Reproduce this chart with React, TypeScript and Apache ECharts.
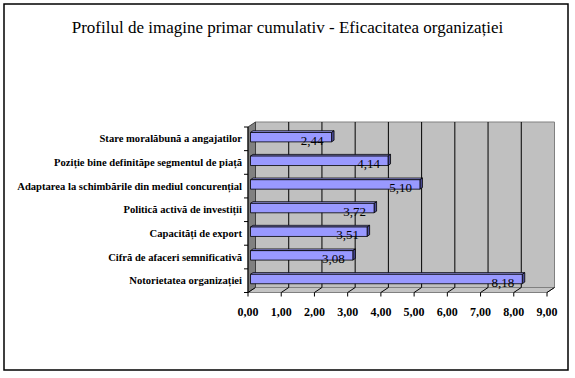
import React, { useEffect, useRef } from "react";
import * as echarts from "echarts";

const TITLE = "Profilul de imagine primar cumulativ - Eficacitatea organizației";
// bottom to top
const categories = [
  "Notorietatea organizației",
  "Cifră de afaceri semnificativă",
  "Capacități de export",
  "Politică activă de investiții",
  "Adaptarea la schimbările din mediul concurențial",
  "Poziție bine definităpe segmentul de piață",
  "Stare moralăbună a angajatilor",
];
const values = [8.18, 3.08, 3.51, 3.72, 5.1, 4.14, 2.44];
const xTicks = [0, 1, 2, 3, 4, 5, 6, 7, 8, 9];

const DX = 7.5;
const DY = -5;
const fmt = (v: number) => v.toFixed(2).replace(".", ",");
const SERIF = "Liberation Serif";

export default function App() {
  const ref = useRef<HTMLDivElement>(null);
  useEffect(() => {
    if (!ref.current) return;
    const chart = echarts.init(ref.current, null, { renderer: "svg" });
    const nCat = categories.length;

    const frameRender = (params: any, api: any) => {
      const cs = params.coordSys;
      const xL = api.coord([0, 0])[0];
      const xR = api.coord([xTicks[xTicks.length - 1], 0])[0];
      const yTop = cs.y;
      const yBot = cs.y + cs.height;
      const band = api.size([0, 1])[1];
      const children: any[] = [];
      children.push({
        type: "rect",
        shape: { x: xL + DX, y: yTop + DY, width: xR - xL, height: yBot - yTop },
        style: { fill: "#c0c0c0", stroke: "#808080", lineWidth: 1 },
      });
      children.push({
        type: "polygon",
        shape: { points: [[xL, yTop], [xL + DX, yTop + DY], [xL + DX, yBot + DY], [xL, yBot]] },
        style: { fill: "#808080", stroke: "#404040", lineWidth: 1 },
      });
      children.push({
        type: "polygon",
        shape: { points: [[xL, yBot], [xR, yBot], [xR + DX, yBot + DY], [xL + DX, yBot + DY]] },
        style: { fill: "#c4c4c4", stroke: "#808080", lineWidth: 1 },
      });
      xTicks.forEach((t) => {
        const x = api.coord([t, 0])[0];
        if (t !== xTicks[0] && t !== xTicks[xTicks.length - 1]) {
          children.push({
            type: "line",
            shape: { x1: x + DX, y1: yTop + DY, x2: x + DX, y2: yBot + DY },
            style: { stroke: "#000", lineWidth: 1 },
          });
        }
        children.push({
          type: "line",
          shape: { x1: x, y1: yBot, x2: x + DX, y2: yBot + DY },
          style: { stroke: "#000", lineWidth: 1 },
        });
        children.push({
          type: "line",
          shape: { x1: x, y1: yBot, x2: x, y2: yBot + 4 },
          style: { stroke: "#000", lineWidth: 1 },
        });
      });
      children.push({
        type: "line",
        shape: { x1: xL, y1: yTop, x2: xL, y2: yBot },
        style: { stroke: "#000", lineWidth: 1 },
      });
      for (let i = 0; i <= nCat; i++) {
        const y = yTop + i * band;
        children.push({
          type: "line",
          shape: { x1: xL - 4, y1: y, x2: xL, y2: y },
          style: { stroke: "#000", lineWidth: 1 },
        });
      }
      return { type: "group", children };
    };

    const barRender = (params: any, api: any) => {
      const val = api.value(0);
      const cat = api.value(1);
      const s = api.coord([0, cat]);
      const e = api.coord([val, cat]);
      const band = api.size([0, 1])[1];
      const h = band * 0.4;
      const fx = DX / 3, fy = DY / 3, bx = DX / 3, by = DY / 3;
      const x0 = s[0] + fx;
      const x1 = e[0] + fx;
      const yc = s[1] + fy;
      const yT = yc - h / 2;
      const yB = yc + h / 2;
      return {
        type: "group",
        children: [
          {
            type: "polygon",
            shape: { points: [[x0, yT], [x1, yT], [x1 + bx, yT + by], [x0 + bx, yT + by]] },
            style: { fill: "#a6a6ff", stroke: "#000", lineWidth: 0.8 },
          },
          {
            type: "polygon",
            shape: { points: [[x1, yT], [x1 + bx, yT + by], [x1 + bx, yB + by], [x1, yB]] },
            style: { fill: "#4d4d99", stroke: "#000", lineWidth: 0.8 },
          },
          {
            type: "rect",
            shape: { x: x0, y: yT, width: x1 - x0, height: h },
            style: { fill: "#9999ff", stroke: "#000", lineWidth: 0.8 },
          },
          {
            type: "text",
            style: {
              text: fmt(val),
              x: x1 - 8,
              y: yc + 3,
              align: "right",
              verticalAlign: "middle",
              fontFamily: SERIF,
              fontSize: 13,
              fill: "#000",
            },
          },
        ],
      };
    };

    chart.setOption({
      animation: false,
      title: {
        text: TITLE,
        left: "center",
        top: 19,
        padding: 0,
        textStyle: { fontFamily: SERIF, fontSize: 17, fontWeight: "normal", color: "#000" },
      },
      graphic: [
        {
          type: "rect",
          shape: { x: 4, y: 4, width: 564, height: 366 },
          style: { fill: "none", stroke: "#000", lineWidth: 1.5 },
          z: 100,
        },
      ],
      grid: { left: 248, right: 28, top: 127, bottom: 85.5 },
      xAxis: {
        type: "value",
        min: 0,
        max: 9,
        interval: 1,
        axisLine: { show: false },
        axisTick: { show: false },
        splitLine: { show: false },
        axisLabel: {
          margin: 13,
          formatter: (v: number) => fmt(v),
          fontFamily: SERIF,
          fontSize: 12,
          fontWeight: "bold",
          color: "#000",
        },
      },
      yAxis: {
        type: "category",
        data: categories,
        axisLine: { show: false },
        axisTick: { show: false },
        splitLine: { show: false },
        axisLabel: {
          margin: 6,
          fontFamily: SERIF,
          fontSize: 10.6,
          fontWeight: "bold",
          color: "#000",
          lineHeight: 12,
          padding: [2, 0, 0, 0],
        },
      },
      series: [
        {
          type: "custom",
          renderItem: frameRender,
          data: [[0, 0]],
          encode: { x: 0, y: 1 },
          silent: true,
          z: 1,
        },
        {
          type: "custom",
          renderItem: barRender,
          data: values.map((v, i) => [v, i]),
          encode: { x: 0, y: 1 },
          z: 3,
        },
      ],
    });
    return () => chart.dispose();
  }, []);
  return (
    <div
      ref={ref}
      style={{ position: "fixed", left: 0, top: 0, width: 575, height: 378, background: "#fff" }}
    />
  );
}
